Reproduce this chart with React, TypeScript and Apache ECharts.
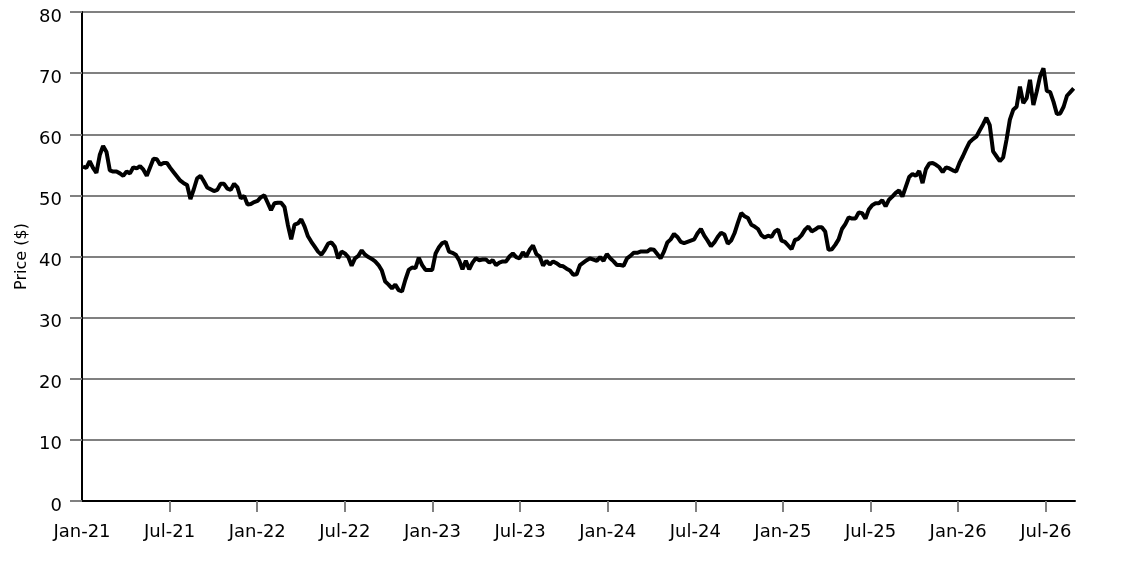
import React, { useEffect, useRef } from "react";
import * as echarts from "echarts";

const tickLabels = [
  "Jan-21", "Jul-21", "Jan-22", "Jul-22", "Jan-23", "Jul-23",
  "Jan-24", "Jul-24", "Jan-25", "Jul-25", "Jan-26", "Jul-26",
];

// first weekly observation; one value per week after it
const startDate = "2021-01-03";

const prices = [
  54.7, 54.5, 55.6, 54.5, 53.7, 56.6, 58.1, 57.1, 54.1, 53.9,
  53.9, 53.6, 53.2, 53.9, 53.6, 54.6, 54.4, 54.8, 54.2, 53.2,
  54.6, 56.0, 55.9, 55.0, 55.3, 55.3, 54.5, 53.8, 53.1, 52.4,
  52.0, 51.7, 49.4, 51.0, 52.8, 53.2, 52.3, 51.3, 51.0, 50.7,
  50.9, 51.9, 51.9, 51.1, 50.9, 51.9, 51.3, 49.5, 49.9, 48.5,
  48.6, 48.9, 49.1, 49.7, 50.0, 48.8, 47.6, 48.7, 48.8, 48.8,
  48.1, 45.2, 42.8, 45.2, 45.4, 46.1, 44.9, 43.3, 42.4, 41.6,
  40.8, 40.3, 41.1, 42.1, 42.3, 41.6, 39.7, 40.8, 40.5, 39.9,
  38.5, 39.7, 40.1, 41.0, 40.3, 39.9, 39.6, 39.2, 38.6, 37.7,
  35.9, 35.4, 34.8, 35.4, 34.5, 34.3, 36.2, 37.8, 38.2, 38.1,
  39.8, 38.6, 37.8, 37.8, 37.8, 40.5, 41.5, 42.2, 42.4, 40.8,
  40.6, 40.3, 39.4, 37.9, 39.3, 37.9, 39.0, 39.7, 39.4, 39.5,
  39.5, 39.0, 39.4, 38.6, 39.0, 39.2, 39.2, 40.0, 40.5, 39.9,
  39.7, 40.7, 40.0, 41.1, 41.8, 40.4, 40.0, 38.5, 39.3, 38.7,
  39.2, 38.9, 38.5, 38.4, 38.0, 37.7, 37.0, 37.1, 38.6, 39.0,
  39.4, 39.7, 39.5, 39.3, 39.9, 39.3, 40.4, 39.7, 39.2, 38.6,
  38.6, 38.5, 39.7, 40.1, 40.6, 40.6, 40.8, 40.8, 40.8, 41.2,
  41.1, 40.4, 39.7, 40.8, 42.3, 42.8, 43.7, 43.2, 42.4, 42.2,
  42.4, 42.6, 42.8, 43.8, 44.5, 43.4, 42.6, 41.7, 42.3, 43.2,
  43.9, 43.6, 42.1, 42.6, 43.8, 45.5, 47.1, 46.6, 46.3, 45.2,
  44.9, 44.5, 43.5, 43.1, 43.4, 43.2, 44.1, 44.4, 42.6, 42.4,
  41.8, 41.2, 42.7, 42.9, 43.5, 44.4, 44.9, 44.1, 44.4, 44.8,
  44.8, 44.1, 41.1, 41.2, 41.9, 42.8, 44.5, 45.3, 46.4, 46.2,
  46.2, 47.2, 47.1, 46.2, 47.7, 48.4, 48.7, 48.7, 49.2, 48.2,
  49.3, 49.8, 50.4, 50.8, 49.8, 51.4, 53.0, 53.5, 53.2, 54.0,
  52.0, 54.3, 55.2, 55.3, 55.0, 54.6, 53.8, 54.6, 54.4, 54.1,
  53.9, 55.3, 56.4, 57.6, 58.7, 59.2, 59.6, 60.6, 61.6, 62.7,
  61.5, 57.2, 56.4, 55.6, 56.2, 59.1, 62.4, 64.0, 64.5, 67.8,
  65.1, 65.9, 68.9, 64.8, 67.0, 69.5, 70.8, 67.1, 66.9, 65.3,
  63.3, 63.4, 64.5, 66.3, 66.9, 67.5,
];

const FONT = "DejaVu Sans";

export default function App() {
  const ref = useRef<HTMLDivElement>(null);

  useEffect(() => {
    const chart = echarts.init(ref.current!, null, { renderer: "svg" });
    const origin = Date.UTC(2021, 0, 1);
    const start = Date.parse(startDate + "T00:00:00Z");
    const dayMs = 86400000;
    const monthDays = 365.25 / 12;
    const startMonths = (start - origin) / dayMs / monthDays;
    const data = prices.map((p, i) => [startMonths + (7 * i) / monthDays, p]);

    const labelValues = tickLabels.map((_, i) => i * 6);
    const tickValues = labelValues.slice(1);

    chart.setOption({
      animation: false,
      grid: { left: 82, top: 12, right: 71, bottom: 72, containLabel: false },
      xAxis: {
        type: "value",
        min: 0,
        max: 68,
        interval: 6,
        axisLine: { show: true, lineStyle: { color: "#000", width: 2 } },
        axisTick: {
          show: true,
          length: 11,
          customValues: tickValues,
          lineStyle: { color: "#808080", width: 2 },
        },
        axisLabel: {
          customValues: labelValues,
          formatter: (v: number) => tickLabels[Math.round(v / 6)] ?? "",
          fontSize: 18,
          fontFamily: FONT,
          color: "#000",
          margin: 20,
        },
        splitLine: { show: false },
      },
      yAxis: {
        type: "value",
        min: 0,
        max: 80,
        interval: 10,
        name: "Price ($)",
        nameLocation: "middle",
        nameGap: 44,
        nameTextStyle: { fontSize: 16, fontFamily: FONT, color: "#000" },
        axisLine: { show: true, lineStyle: { color: "#000", width: 2 } },
        axisTick: { show: true, length: 12, lineStyle: { color: "#808080", width: 2 } },
        axisLabel: {
          fontSize: 18,
          fontFamily: FONT,
          color: "#000",
          margin: 20,
          verticalAlign: "top",
          lineHeight: 6,
        },
        splitLine: { show: true, lineStyle: { color: "#808080", width: 2 } },
      },
      series: [
        {
          type: "line",
          data,
          showSymbol: false,
          symbol: "none",
          lineStyle: { color: "#000", width: 4 },
          z: 3,
        },
      ],
    });
    return () => chart.dispose();
  }, []);

  return (
    <div
      ref={ref}
      style={{ position: "fixed", left: 0, top: 0, width: 1146, height: 573 }}
    />
  );
}
